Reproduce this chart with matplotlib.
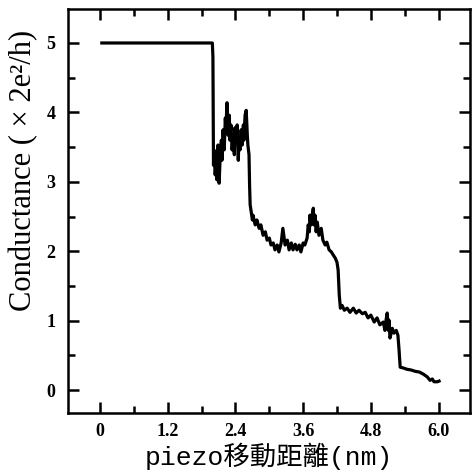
import matplotlib
matplotlib.use("Agg")
import matplotlib.pyplot as plt
from matplotlib.ticker import MultipleLocator, FixedLocator


# piezo displacement (nm) and conductance (x 2e^2/h)
piezo_nm = [0.03, 1.99, 2.00, 2.01,
            2.02, 2.04, 2.06, 2.07, 2.09, 2.11, 2.13, 2.15, 2.16, 2.18,
            2.20, 2.22, 2.23, 2.25, 2.27, 2.29, 2.30, 2.32, 2.34, 2.36,
            2.38, 2.39, 2.41, 2.43, 2.45, 2.46, 2.48, 2.50, 2.52, 2.54,
            2.55, 2.57, 2.59, 2.61, 2.62, 2.64, 2.65, 2.66, 2.68, 2.70,
            2.71, 2.75, 2.78, 2.82, 2.85, 2.89, 2.93, 2.96, 3.00, 3.03,
            3.07, 3.10, 3.14, 3.17, 3.21, 3.24, 3.28, 3.32, 3.35, 3.39,
            3.42, 3.46, 3.49, 3.53, 3.56, 3.60, 3.63, 3.67, 3.69, 3.71,
            3.72, 3.74, 3.76, 3.78, 3.79, 3.81, 3.83, 3.85, 3.88, 3.92,
            3.95, 3.99, 4.02, 4.06, 4.10, 4.13, 4.17, 4.20, 4.22, 4.24,
            4.26, 4.29, 4.33, 4.38, 4.43, 4.49, 4.54, 4.59, 4.65, 4.70,
            4.75, 4.80, 4.86, 4.91, 4.96, 5.02, 5.05, 5.07, 5.09, 5.11,
            5.12, 5.14, 5.18, 5.21, 5.25, 5.28, 5.30, 5.32, 5.37, 5.44,
            5.51, 5.59, 5.66, 5.73, 5.80, 5.85, 5.89, 5.92, 5.98, 6.01]

conductance = [5.00, 5.00, 4.80, 3.24,
               3.46, 3.10, 3.31, 3.03, 3.53, 2.98, 3.39, 3.60, 3.31, 3.75,
               3.46, 3.92, 3.75, 4.14, 3.67, 3.96, 3.60, 3.82, 3.46, 3.67,
               3.39, 3.78, 3.60, 3.82, 3.31, 3.60, 3.46, 3.75, 3.53, 3.82,
               3.60, 3.96, 4.03, 3.67, 3.53, 3.39, 2.95, 2.67, 2.56, 2.45,
               2.52, 2.38, 2.45, 2.33, 2.38, 2.23, 2.28, 2.16, 2.19, 2.09,
               2.12, 2.02, 2.09, 1.99, 2.12, 2.33, 2.09, 2.16, 2.02, 2.12,
               2.02, 2.10, 2.02, 2.09, 1.99, 2.12, 2.09, 2.19, 2.38, 2.28,
               2.52, 2.38, 2.52, 2.62, 2.38, 2.52, 2.28, 2.42, 2.23, 2.33,
               2.16, 2.09, 2.13, 2.02, 1.99, 1.95, 1.90, 1.84, 1.73, 1.37,
               1.18, 1.22, 1.15, 1.18, 1.12, 1.18, 1.11, 1.15, 1.10, 1.12,
               1.04, 1.08, 0.98, 1.04, 0.94, 0.98, 0.86, 1.01, 1.11, 0.86,
               1.01, 0.75, 0.89, 0.82, 0.86, 0.79, 0.58, 0.33, 0.32, 0.30,
               0.29, 0.27, 0.26, 0.23, 0.19, 0.14, 0.16, 0.12, 0.12, 0.13]

x_ticks = [0, 1.2, 2.4, 3.6, 4.8, 6.0]
x_tick_labels = ["0", "1.2", "2.4", "3.6", "4.8", "6.0"]
y_ticks = [0, 1, 2, 3, 4, 5]


def main():
    fig = plt.figure(figsize=(4.72, 4.72), dpi=100)
    ax = fig.add_axes([0.144, 0.125, 0.852, 0.856])

    ax.plot(piezo_nm, conductance, color="black", lw=2.3,
            solid_joinstyle="round")

    ax.set_xlim(-0.57, 6.56)
    ax.set_ylim(-0.33, 5.49)

    ax.xaxis.set_major_locator(FixedLocator(x_ticks))
    ax.xaxis.set_minor_locator(MultipleLocator(0.6))
    ax.yaxis.set_major_locator(FixedLocator(y_ticks))
    ax.yaxis.set_minor_locator(MultipleLocator(0.5))
    ax.set_xticklabels(x_tick_labels)

    ax.tick_params(which="both", direction="in", top=True, right=True,
                   width=1.8, colors="black")
    ax.tick_params(which="major", length=8)
    ax.tick_params(which="minor", length=5)
    ax.tick_params(axis="x", pad=7)
    ax.tick_params(axis="y", pad=9)
    for lab in ax.get_xticklabels() + ax.get_yticklabels():
        lab.set_family("Liberation Serif")
        lab.set_weight("bold")
        lab.set_fontsize(13)

    for sp in ax.spines.values():
        sp.set_linewidth(1.8)

    ax.set_xlabel("piezo移動距離(nm)", fontsize=19,
                  family=["Liberation Mono", "Noto Sans CJK TC"], labelpad=2)
    ax.set_ylabel("Conductance ( × 2e²/h)", fontsize=22,
                  family="Liberation Serif")
    ax.yaxis.set_label_coords(-0.075, 0.6)

    fig.savefig("out.png", dpi=100)


if __name__ == "__main__":
    main()
